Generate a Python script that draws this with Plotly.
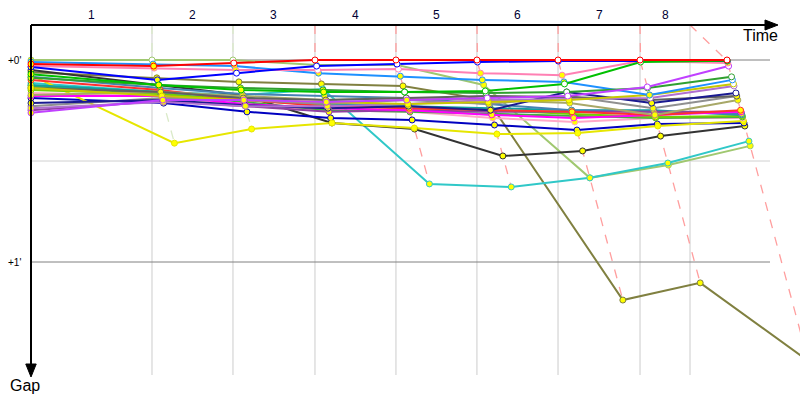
import plotly.graph_objects as go

# ---------------- data (gaps to leader in seconds, lap 0 = start) ----------------
lap_labels = ["1", "2", "3", "4", "5", "6", "7", "8"]
lap_end_times = [133.1, 222.2, 312.4, 401.5, 490.6, 579.8, 670.0, 725.0]
leader_cross_times = [0.0, 133.1, 222.2, 312.4, 401.5, 490.6, 579.8, 670.0, 765.7]

gap_red = [1.2, 1.8, 0.9, 0.0, 0.0, 0.0, 0.0, 0.0, 0.0]
gap_blue = [2.1, 5.9, 3.9, 1.8, 1.2, 0.6, 0.3, 0.3, 0.3]
gap_lightgreen = [0.0, 0.0, 0.0, 1.5, 1.5, 7.4, 35.0, 31.2, 25.5]
gap_dodger = [0.6, 1.2, 1.8, 3.9, 4.8, 5.9, 6.5, 10.4, 5.9]
gap_pink = [1.8, 2.4, 3.0, 3.0, 2.7, 3.9, 4.5, 0.3, 0.9]
gap_green = [4.2, 7.4, 8.9, 9.5, 9.5, 9.2, 7.1, 0.6, 0.2]
gap_violet = [15.7, 11.9, 11.9, 12.5, 11.9, 11.3, 10.7, 8.0, 1.8]
gap_forest = [5.3, 7.4, 8.3, 8.9, 9.5, 9.8, 9.5, 8.3, 5.0]
gap_yellow = [4.5, 24.7, 20.5, 18.7, 20.2, 22.0, 21.7, 19.6, 18.1]
gap_black = [3.0, 7.4, 10.4, 18.7, 20.5, 28.5, 27.0, 22.6, 19.6]
gap_cyan = [6.8, 9.5, 10.4, 8.6, 36.8, 37.7, 35.0, 30.6, 24.1]
gap_olive = [3.6, 5.3, 6.5, 7.1, 7.7, 11.9, 71.3, 66.2, 89.4]
gap_navy = [12.8, 11.9, 13.4, 14.3, 13.7, 14.9, 9.5, 12.8, 9.8]
gap_grey = [13.7, 11.3, 11.9, 13.1, 11.9, 13.1, 10.7, 14.3, 10.7]
gap_khaki = [10.4, 9.5, 10.7, 11.9, 11.3, 11.9, 12.8, 16.3, 11.9]
gap_purple = [14.9, 12.2, 13.7, 15.4, 14.9, 15.4, 15.4, 15.4, 15.4]
gap_magenta = [10.7, 10.7, 13.1, 14.3, 14.9, 16.3, 17.2, 16.3, 15.4]
gap_teal = [7.4, 9.5, 11.3, 13.1, 13.7, 14.3, 14.9, 14.9, 16.3]
gap_red2 = [5.9, 8.9, 11.9, 13.7, 14.3, 14.9, 15.4, 16.3, 14.9]
gap_lime = [8.9, 10.1, 11.9, 13.4, 14.3, 14.9, 16.0, 16.9, 16.6]
gap_darkblue = [11.3, 12.8, 15.4, 17.2, 17.8, 19.3, 20.8, 19.0, 18.7]
gap_lightpink = [9.8, 10.7, 13.7, 14.9, 15.4, 17.2, 18.4, 17.2, 17.2]
gap_gold = [8.3, 10.7, 11.9, 12.5, 13.1, 12.5, 11.9, 10.4, 7.1]
gap_orchid = [14.3, 12.5, 13.7, 13.7, 13.1, 11.9, 11.6, 11.3, 7.7]
gap_grey2 = [8.3, 9.5, 11.3, 11.9, 11.3, 10.7, 11.0, 11.9, 10.7]
gap_green2 = [7.7, 10.1, 12.5, 14.9, 15.4, 16.0, 16.6, 17.2, 16.9]
gap_steel = [5.0, 8.3, 10.1, 10.7, 11.3, 13.1, 14.9, 15.4, 16.0]

drivers = [
    ("red", "#ff0000", gap_red),
    ("blue", "#0000ff", gap_blue),
    ("lightgreen", "#a0c870", gap_lightgreen),
    ("dodger", "#1e90ff", gap_dodger),
    ("pink", "#ff80b4", gap_pink),
    ("green", "#00c000", gap_green),
    ("violet", "#c040ff", gap_violet),
    ("forest", "#30a030", gap_forest),
    ("yellow", "#e6e600", gap_yellow),
    ("black", "#333333", gap_black),
    ("cyan", "#30c8c8", gap_cyan),
    ("olive", "#808040", gap_olive),
    ("navy", "#1a1a90", gap_navy),
    ("grey", "#909090", gap_grey),
    ("khaki", "#a8a868", gap_khaki),
    ("purple", "#9040a0", gap_purple),
    ("magenta", "#ff00ff", gap_magenta),
    ("teal", "#10a0a0", gap_teal),
    ("red2", "#ff3030", gap_red2),
    ("lime", "#70d000", gap_lime),
    ("darkblue", "#0000c0", gap_darkblue),
    ("lightpink", "#ffa8c8", gap_lightpink),
    ("gold", "#c8c800", gap_gold),
    ("orchid", "#b070d0", gap_orchid),
    ("grey2", "#606060", gap_grey2),
    ("green2", "#40b040", gap_green2),
    ("steel", "#4682b4", gap_steel),
]

# ---------------- figure ----------------
Y_TOP, Y_BOT = -10.4, 93.56
X_MAX = 846.0
n_laps = len(leader_cross_times)


def lighten(hexc, f=0.65):
    h = hexc.lstrip("#")
    r, g, b = int(h[0:2], 16), int(h[2:4], 16), int(h[4:6], 16)
    r, g, b = [int(c + (255 - c) * f) for c in (r, g, b)]
    return f"rgb({r},{g},{b})"


def xpos(k, g):
    return 0.0 if k == 0 else leader_cross_times[k] + g


fig = go.Figure()

# lap lines (dashed), colour from the leader of that lap
for k in range(1, n_laps):
    lead = min(drivers, key=lambda d: d[2][k])
    gs = sorted(d[2][k] for d in drivers)
    xs = [lap_end_times[k - 1]] + [xpos(k, g) for g in gs]
    ys = [Y_TOP] + gs
    fig.add_trace(go.Scatter(x=xs, y=ys, mode="lines", hoverinfo="skip",
                             line=dict(color=lighten(lead[1], 0.62), width=1.3, dash="dash")))

order = sorted(drivers, key=lambda d: -d[2][-1])

# driver lines
for name, col, g in order:
    fig.add_trace(go.Scatter(x=[xpos(k, v) for k, v in enumerate(g)], y=g, mode="lines",
                             line=dict(color=col, width=2), name=name))

# markers
for name, col, g in order:
    fills = []
    for k, v in enumerate(g):
        if k == 0:
            fills.append("#ffff00")
            continue
        rank = sorted(d[2][k] for d in drivers).index(v)
        fills.append("#ffffff" if (rank < 10 and v <= g[k - 1] + 0.3) else "#ffff00")
    fig.add_trace(go.Scatter(x=[xpos(k, v) for k, v in enumerate(g)], y=g, mode="markers",
                             marker=dict(size=6, color=fills, line=dict(color=col, width=1)),
                             name=name, cliponaxis=False))

shapes = []
# vertical lap grid lines
for t in lap_end_times:
    shapes.append(dict(type="line", xref="x", yref="paper", x0=t, x1=t, y0=0, y1=1,
                       line=dict(color="#cccccc", width=1), layer="below"))
# horizontal gap grid lines
for yv, c in [(0, "#808080"), (30, "#d0d0d0"), (60, "#808080")]:
    shapes.append(dict(type="line", xref="paper", yref="y", x0=0, x1=0.961, y0=yv, y1=yv,
                       line=dict(color=c, width=1), layer="below"))
# axes with arrows
shapes.append(dict(type="line", xref="paper", yref="paper", x0=0, x1=0.956, y0=1, y1=1,
                   line=dict(color="black", width=2), layer="above"))
shapes.append(dict(type="path", xref="paper", yref="paper",
                   path="M 0.9545 1.0143 L 0.9714 1.0 L 0.9545 0.9857 Z",
                   fillcolor="black", line=dict(color="black", width=1), layer="above"))
shapes.append(dict(type="line", xref="paper", yref="paper", x0=0, x1=0, y0=1, y1=0.03,
                   line=dict(color="black", width=2), layer="above"))
shapes.append(dict(type="path", xref="paper", yref="paper",
                   path="M -0.0068 0.0314 L 0 -0.0057 L 0.0068 0.0314 Z",
                   fillcolor="black", line=dict(color="black", width=1), layer="above"))

annotations = []
bounds = [0.0] + lap_end_times
for i, lab in enumerate(lap_labels):
    annotations.append(dict(x=(bounds[i] + bounds[i + 1]) / 2, y=1, xref="x", yref="paper",
                            text=lab, showarrow=False, xanchor="center", yanchor="bottom",
                            yshift=1, font=dict(size=12, color="#000033")))
for yv, lab in [(0, "+0'"), (60, "+1'")]:
    annotations.append(dict(x=0, y=yv, xref="paper", yref="y", text=lab, showarrow=False,
                            xanchor="right", yanchor="middle", xshift=-8,
                            font=dict(size=10, color="black")))
annotations.append(dict(x=0.948, y=0.971, xref="paper", yref="paper", text="Time",
                        showarrow=False, xanchor="center", yanchor="middle",
                        font=dict(size=16, color="black")))
annotations.append(dict(x=-0.008, y=-0.029, xref="paper", yref="paper", text="Gap",
                        showarrow=False, xanchor="center", yanchor="middle",
                        font=dict(size=16, color="black")))

fig.update_layout(
    width=800, height=400,
    margin=dict(l=31, r=0, t=25, b=25),
    paper_bgcolor="white", plot_bgcolor="white",
    showlegend=False,
    font=dict(family="Liberation Sans, Arial, sans-serif"),
    xaxis=dict(range=[0, X_MAX], showgrid=False, zeroline=False, showticklabels=False,
               showline=False, ticks=""),
    yaxis=dict(range=[Y_BOT, Y_TOP], showgrid=False, zeroline=False, showticklabels=False,
               showline=False, ticks=""),
    shapes=shapes,
    annotations=annotations,
)

fig.write_html("out.html", config={"displayModeBar": False},
               post_script="document.body.style.margin='0';document.body.style.overflow='hidden';")
